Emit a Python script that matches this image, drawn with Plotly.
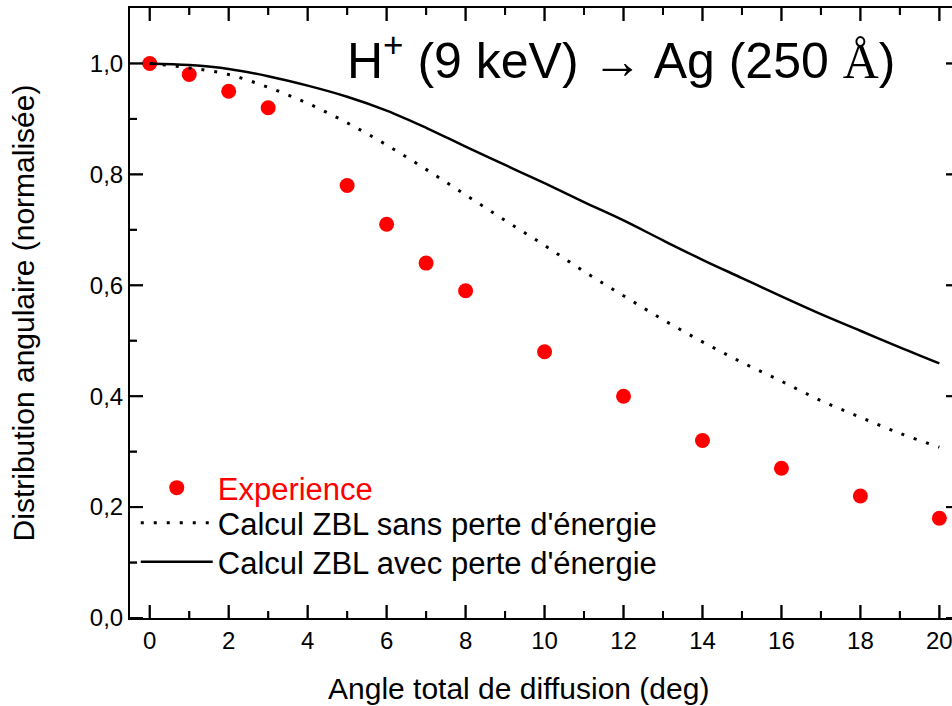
import plotly.graph_objects as go

# Data
exp_angle = [0, 1, 2, 3, 5, 6, 7, 8, 10, 12, 14, 16, 18, 20]
exp_value = [1.0, 0.98, 0.95, 0.92, 0.78, 0.71, 0.64, 0.59, 0.48, 0.40, 0.32, 0.27, 0.22, 0.18]

calc_angle = list(range(0, 21))
zbl_sans = [1.0, 0.992, 0.98, 0.957, 0.928, 0.893, 0.853, 0.809, 0.763, 0.717, 0.672,
            0.625, 0.581, 0.538, 0.498, 0.461, 0.427, 0.392, 0.362, 0.333, 0.308]
zbl_avec = [1.0, 0.997, 0.99, 0.977, 0.96, 0.94, 0.915, 0.884, 0.85, 0.817, 0.784,
            0.75, 0.717, 0.681, 0.646, 0.613, 0.58, 0.548, 0.518, 0.488, 0.459]

x_major = list(range(0, 21, 2))
x_minor = list(range(1, 20, 2))
y_major = [0.0, 0.2, 0.4, 0.6, 0.8, 1.0]
y_minor = [0.1, 0.3, 0.5, 0.7, 0.9]

FONT = "Liberation Sans, Arial, sans-serif"

W, H = 952, 706
M_L, M_R, M_T, M_B = 130, 0, 8, 88
X_RANGE = [-0.5, 20.32]
Y_RANGE = [0.0, 1.1]

fig = go.Figure()
fig.add_trace(go.Scatter(
    x=exp_angle, y=exp_value, mode="markers",
    name="<span style='color:#ff0000'>Experience</span>",
    marker=dict(color="#ff0000", size=15, line=dict(width=0)),
    legend="legend",
))
fig.add_trace(go.Scatter(
    x=calc_angle, y=zbl_sans, mode="lines",
    name="Calcul ZBL sans perte d'énergie",
    line=dict(color="black", width=3, dash="3px,10px", shape="spline"),
    legend="legend2",
))
fig.add_trace(go.Scatter(
    x=calc_angle, y=zbl_avec, mode="lines",
    name="Calcul ZBL avec perte d'énergie",
    line=dict(color="black", width=2.5, shape="spline"),
    legend="legend3",
))

fig.add_annotation(
    text="H<sup>+</sup> (9 keV) → Ag (250 <span style='font-family:Liberation Serif'>Å</span>)",
    xref="paper", yref="paper", x=0.262, y=0.92, xanchor="left", yanchor="middle",
    showarrow=False, font=dict(family=FONT, size=50, color="black"),
)
fig.add_annotation(
    text="Angle total de diffusion (deg)",
    xref="paper", yref="paper", x=0.473, y=-0.115, xanchor="center", yanchor="middle",
    showarrow=False, font=dict(family=FONT, size=30, color="black"),
)

# Axis ticks (inward), drawn at the tick values; lengths converted from pixels
x_per_px = (X_RANGE[1] - X_RANGE[0]) / (W - M_L - M_R)
y_per_px = (Y_RANGE[1] - Y_RANGE[0]) / (H - M_T - M_B)
MAJOR, MINOR, STUB = 13, 7, 6
tick_line = dict(color="black", width=2)
shapes = []
xt = [(v, MAJOR) for v in x_major] + [(v, MINOR) for v in x_minor]
yt = [(v, MAJOR) for v in y_major] + [(v, MINOR) for v in y_minor]
for xv, ln in xt:
    dy = ln * y_per_px
    shapes.append(dict(type="line", xref="x", yref="y", layer="above",
                       x0=xv, x1=xv, y0=Y_RANGE[0], y1=Y_RANGE[0] + dy, line=tick_line))
    shapes.append(dict(type="line", xref="x", yref="y", layer="above",
                       x0=xv, x1=xv, y0=Y_RANGE[1], y1=Y_RANGE[1] - dy, line=tick_line))
for yv, ln in yt:
    dx = ln * x_per_px
    shapes.append(dict(type="line", xref="x", yref="y", layer="above",
                       y0=yv, y1=yv, x0=X_RANGE[0], x1=X_RANGE[0] + dx, line=tick_line))
for yv in y_major:
    shapes.append(dict(type="line", xref="x", yref="y", layer="above",
                       y0=yv, y1=yv, x0=X_RANGE[1], x1=X_RANGE[1] - STUB * x_per_px, line=tick_line))

# Same ticks also as line markers (symbol length = 1.4 * size)
def tick_trace(xs, ys, sizes, symbol):
    return go.Scatter(x=xs, y=ys, mode="markers", showlegend=False, hoverinfo="skip",
                      cliponaxis=False,
                      marker=dict(symbol=symbol, size=sizes, color="black",
                                  line=dict(color="black", width=2)))

fig.add_trace(tick_trace([v for v, _ in xt], [Y_RANGE[0] + ln * y_per_px / 2 for _, ln in xt],
                         [ln / 1.4 for _, ln in xt], "line-ns"))
fig.add_trace(tick_trace([v for v, _ in xt], [Y_RANGE[1] - ln * y_per_px / 2 for _, ln in xt],
                         [ln / 1.4 for _, ln in xt], "line-ns"))
fig.add_trace(tick_trace([X_RANGE[0] + ln * x_per_px / 2 for _, ln in yt], [v for v, _ in yt],
                         [ln / 1.4 for _, ln in yt], "line-ew"))
fig.add_trace(tick_trace([X_RANGE[1] - STUB * x_per_px / 2 for _ in y_major], y_major,
                         [STUB / 1.4 for _ in y_major], "line-ew"))

leg_common = dict(xanchor="left", yanchor="middle", bgcolor="rgba(0,0,0,0)",
                  itemwidth=72, font=dict(family=FONT, size=31, color="black"))

fig.update_layout(
    template="none",
    width=W, height=H,
    margin=dict(l=M_L, r=M_R, t=M_T, b=M_B),
    paper_bgcolor="white", plot_bgcolor="white",
    separators=",.",
    font=dict(family=FONT, color="black"),
    showlegend=True,
    legend=dict(x=0.007, y=0.2131, **leg_common),
    legend2=dict(x=0.007, y=0.1557, **leg_common),
    legend3=dict(x=0.007, y=0.0918, **leg_common),
    shapes=shapes,
)

fig.update_xaxes(
    range=X_RANGE, tickmode="array", tickvals=x_major, ticktext=[str(v) for v in x_major],
    showline=True, linecolor="black", linewidth=2, mirror=True,
    ticks="", showgrid=False, zeroline=False, ticklabeloverflow="allow",
    tickfont=dict(family=FONT, size=24, color="black"),
)
fig.update_yaxes(
    range=Y_RANGE, tickmode="array", tickvals=y_major, tickformat=".1f",
    showline=True, linecolor="black", linewidth=2, mirror=False,
    ticks="", showgrid=False, zeroline=False,
    tickfont=dict(family=FONT, size=24, color="black"),
    title=dict(text="Distribution angulaire (normalisée)", font=dict(family=FONT, size=30), standoff=46),
)

fig.write_html("out.html")
